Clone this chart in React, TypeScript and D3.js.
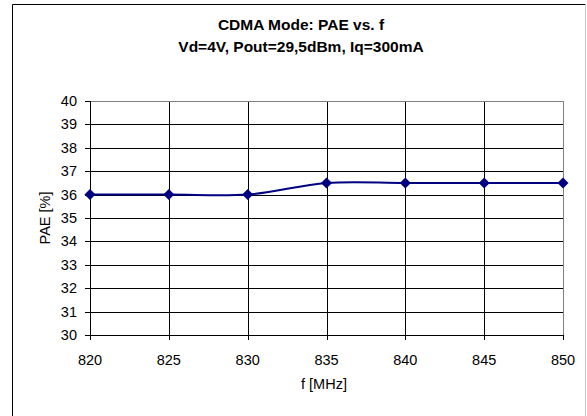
import React from "react";
import * as d3 from "d3";

const freqs = [820, 825, 830, 835, 840, 845, 850];
const pae = [36, 36, 36, 36.5, 36.5, 36.5, 36.5];
const yTicks = [30, 31, 32, 33, 34, 35, 36, 37, 38, 39, 40];
const titleLines = ["CDMA Mode: PAE vs. f", "Vd=4V, Pout=29,5dBm, Iq=300mA"];

const W = 587;
const H = 416;
const left = 90;
const right = 563;
const top = 101;
const bottom = 335;

export default function App() {
  const x = d3.scaleLinear().domain([820, 850]).range([left, right]);
  const y = d3.scaleLinear().domain([30, 40]).range([bottom, top]);

  const line = d3
    .line<number>()
    .x((_, i) => x(freqs[i]))
    .y((d) => y(d))
    .curve(d3.curveCatmullRom.alpha(0.5));

  const font = "'Liberation Sans', Arial, sans-serif";

  return (
    <svg
      width={W}
      height={H}
      style={{ position: "absolute", left: 0, top: 0, background: "#fff" }}
      fontFamily={font}
    >
      {/* outer frame */}
      <line x1={12.5} y1={4.5} x2={585.5} y2={4.5} stroke="#000" />
      <line x1={12.5} y1={4.5} x2={12.5} y2={H + 2} stroke="#000" />
      <line x1={585.5} y1={4.5} x2={585.5} y2={H + 2} stroke="#c8c8c8" />

      {titleLines.map((t, i) => (
        <text
          key={i}
          x={301}
          y={30 + i * 22}
          textAnchor="middle"
          fontSize={15.5}
          fontWeight="bold"
        >
          {t}
        </text>
      ))}

      {/* horizontal grid */}
      {yTicks.map((v) => (
        <line
          key={"h" + v}
          x1={left}
          x2={right}
          y1={Math.round(y(v)) + 0.5}
          y2={Math.round(y(v)) + 0.5}
          stroke="#000"
        />
      ))}
      {/* vertical grid */}
      {freqs.map((f) => (
        <line
          key={"v" + f}
          x1={Math.round(x(f)) + 0.5}
          x2={Math.round(x(f)) + 0.5}
          y1={top}
          y2={bottom}
          stroke="#000"
        />
      ))}
      {/* plot area border top/right */}
      <line x1={left} x2={right + 0.5} y1={top + 0.5} y2={top + 0.5} stroke="#808080" />
      <line x1={right + 0.5} x2={right + 0.5} y1={top} y2={bottom} stroke="#808080" />

      {/* axes */}
      <line x1={left + 0.5} x2={left + 0.5} y1={top} y2={bottom + 1} stroke="#000" />
      <line x1={left} x2={right + 1} y1={bottom + 0.5} y2={bottom + 0.5} stroke="#000" />
      {yTicks.map((v) => (
        <g key={"yt" + v}>
          <line
            x1={left - 5}
            x2={left}
            y1={Math.round(y(v)) + 0.5}
            y2={Math.round(y(v)) + 0.5}
            stroke="#000"
          />
          <text x={left - 13} y={y(v) + 5} textAnchor="end" fontSize={14.5}>
            {v}
          </text>
        </g>
      ))}
      {freqs.map((f) => (
        <g key={"xt" + f}>
          <line
            x1={Math.round(x(f)) + 0.5}
            x2={Math.round(x(f)) + 0.5}
            y1={bottom}
            y2={bottom + 5}
            stroke="#000"
          />
          <text x={x(f)} y={bottom + 30} textAnchor="middle" fontSize={14.5}>
            {f}
          </text>
        </g>
      ))}

      <text x={324} y={389} textAnchor="middle" fontSize={14.5}>
        f [MHz]
      </text>
      <text
        transform={`translate(50, ${(top + bottom) / 2}) rotate(-90)`}
        textAnchor="middle"
        fontSize={14.5}
      >
        PAE [%]
      </text>

      <path d={line(pae) ?? ""} fill="none" stroke="#000080" strokeWidth={2} />
      {pae.map((v, i) => {
        const cx = x(freqs[i]);
        const cy = y(v);
        const r = 5.5;
        return (
          <path
            key={"m" + i}
            d={`M${cx},${cy - r}L${cx + r},${cy}L${cx},${cy + r}L${cx - r},${cy}Z`}
            fill="#000080"
          />
        );
      })}
    </svg>
  );
}
